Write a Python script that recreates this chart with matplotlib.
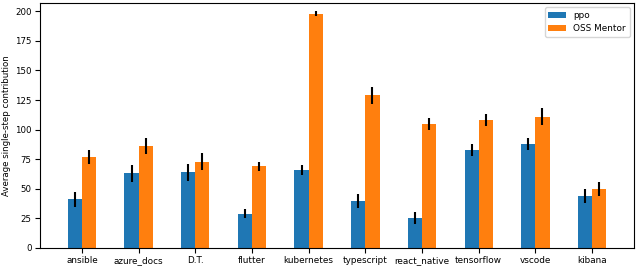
import numpy as np
import matplotlib.pyplot as plt

repos = ['ansible', 'azure_docs', 'D.T.', 'flutter', 'kubernetes',
         'typescript', 'react_native', 'tensorflow', 'vscode', 'kibana']
ppo = [41, 63, 64, 29, 66, 40, 25, 83, 88, 44]
ppo_err = [6, 7, 7, 4, 4, 6, 5, 5, 5, 6]
oss_mentor = [77, 86, 73, 69, 198, 129, 105, 108, 111, 50]
oss_mentor_err = [6, 7, 7, 4, 2, 7, 5, 5, 7, 6]

fig, ax = plt.subplots(figsize=(6.4, 2.66), dpi=100)
x = np.arange(len(repos))
w = 0.25

ax.bar(x - w / 2, ppo, w, yerr=ppo_err, color='#1f77b4', label='ppo',
       error_kw=dict(ecolor='black', elinewidth=1.5, capsize=0))
ax.bar(x + w / 2, oss_mentor, w, yerr=oss_mentor_err, color='#ff7f0e',
       label='OSS Mentor',
       error_kw=dict(ecolor='black', elinewidth=1.5, capsize=0))

ax.set_xticks(x)
ax.set_xticklabels(repos, fontsize=6.4)
ax.set_yticks(np.arange(0, 201, 25))
ax.tick_params(axis='y', labelsize=6.2, pad=2.5)
ax.tick_params(axis='x', pad=2.5)
ax.set_xlim(-0.74, 9.74)
ax.set_ylim(0, 207)
ax.set_ylabel('Average single-step contribution', fontsize=6.2, labelpad=3)
ax.legend(loc='upper right', fontsize=6.4)

fig.subplots_adjust(left=0.0625, right=0.9906, top=0.989, bottom=0.0677)
fig.savefig('out.png')
